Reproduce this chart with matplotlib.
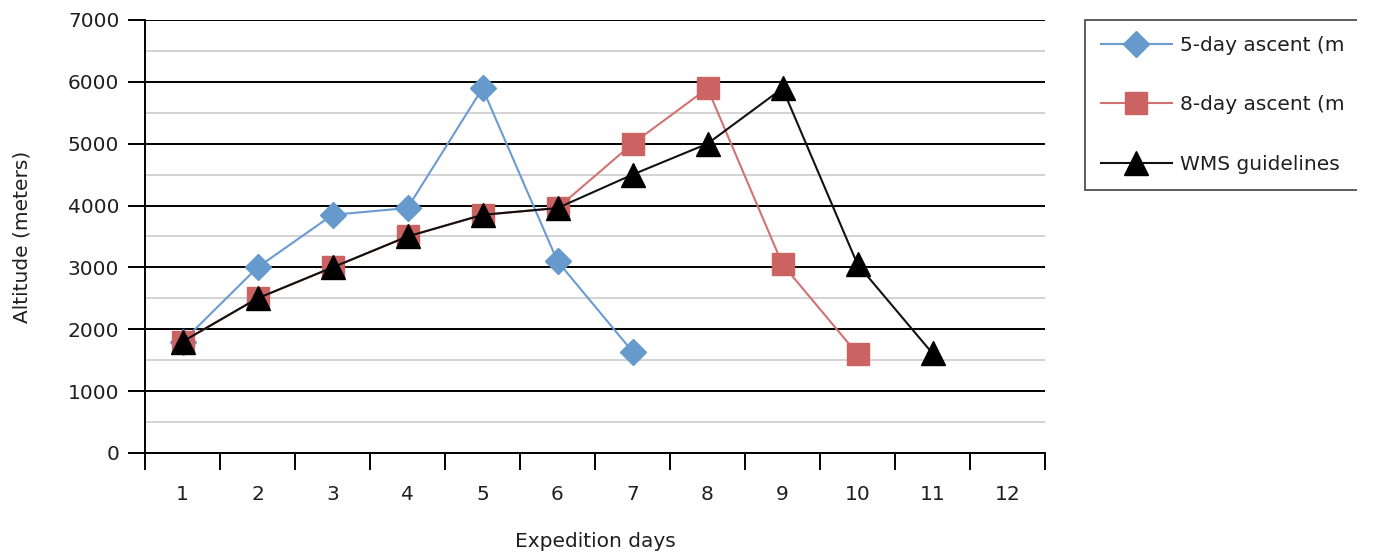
import numpy as np
import matplotlib
matplotlib.use("Agg")
import matplotlib.pyplot as plt
from matplotlib.patches import Rectangle

# data
days = list(range(1, 13))
day_labels = [str(d) for d in days]

five_day_days = [1, 2, 3, 4, 5, 6, 7]
five_day_alt = [1800, 3000, 3850, 3960, 5895, 3100, 1640]

eight_day_days = [1, 2, 3, 4, 5, 6, 7, 8, 9, 10]
eight_day_alt = [1800, 2500, 3000, 3500, 3850, 3960, 5000, 5895, 3050, 1600]

wms_days = [1, 2, 3, 4, 5, 6, 7, 8, 9, 10, 11]
wms_alt = [1800, 2500, 3000, 3500, 3850, 3960, 4500, 5000, 5895, 3050, 1610]

# legend names as far as the reference shows them (cut at the image edge)
series_names = ["5-day ascent (m", "8-day ascent (m", "WMS guidelines"]

FS = 14.5
TXT = "#1f1f1f"

fig = plt.figure(figsize=(13.75, 5.58), dpi=100)
ax = fig.add_axes([145 / 1375, 1 - 453 / 558, 900 / 1375, 433 / 558])

# series
ax.plot(five_day_days, five_day_alt, color="#6A9BD1", lw=1.5, marker="D", ms=13,
        mfc="#6699CC", mec="#6699CC", label=series_names[0], zorder=3)
ax.plot(eight_day_days, eight_day_alt, color="#D27272", lw=1.5, marker="s", ms=16.5,
        mfc="#CC6363", mec="#CC6363", label=series_names[1], zorder=4)
ax.plot(wms_days, wms_alt, color="#111111", lw=1.5, marker="^", ms=17,
        mfc="black", mec="black", label=series_names[2], zorder=5)

# axes range / ticks
ax.set_xlim(0.5, 12.5)
ax.set_ylim(0, 7000)
ax.set_xticks(days)
ax.set_xticklabels(day_labels)
ax.set_xticks(np.arange(0.5, 13, 1), minor=True)
ax.set_yticks(np.arange(0, 7001, 1000))
ax.set_yticks(np.arange(500, 7000, 1000), minor=True)

ax.tick_params(axis="x", which="major", length=0, pad=23, labelsize=FS, labelcolor=TXT)
ax.tick_params(axis="x", which="minor", length=12, width=1.4, color="black", direction="out")
ax.tick_params(axis="y", which="major", length=12, width=1.4, color="black", direction="out",
               pad=6.5, labelsize=FS, labelcolor=TXT)
ax.tick_params(axis="y", which="minor", length=0)

# grid
ax.grid(True, axis="y", which="major", color="black", lw=1.4, zorder=1)
ax.grid(True, axis="y", which="minor", color="#D3D3D3", lw=1.4, zorder=1)
ax.set_axisbelow(True)

for side in ["top", "right"]:
    ax.spines[side].set_visible(False)
for side in ["left", "bottom"]:
    ax.spines[side].set_color("black")
    ax.spines[side].set_linewidth(1.4)

ax.set_xlabel("Expedition days", fontsize=FS, color=TXT)
ax.set_ylabel("Altitude (meters)", fontsize=FS, color=TXT)
ax.xaxis.set_label_coords(0.5, -0.182)
ax.yaxis.set_label_coords(-0.126, 0.5)

# legend
leg = fig.legend(loc="upper left", bbox_to_anchor=(1085 / 1375, 1 - 20 / 558),
                 fontsize=FS, frameon=True, fancybox=False, handlelength=3.5,
                 handletextpad=0.4, labelspacing=2.0, borderpad=0.8,
                 borderaxespad=0)
leg.get_frame().set_edgecolor("#333333")
leg.get_frame().set_linewidth(1.4)
for t in leg.get_texts():
    t.set_color(TXT)

# the reference cuts the legend box off at the right edge
fig.patches.append(Rectangle((1357 / 1375, 0), 1, 1, transform=fig.transFigure,
                             facecolor="white", edgecolor="none", zorder=10))

fig.savefig("out.png", dpi=100)
